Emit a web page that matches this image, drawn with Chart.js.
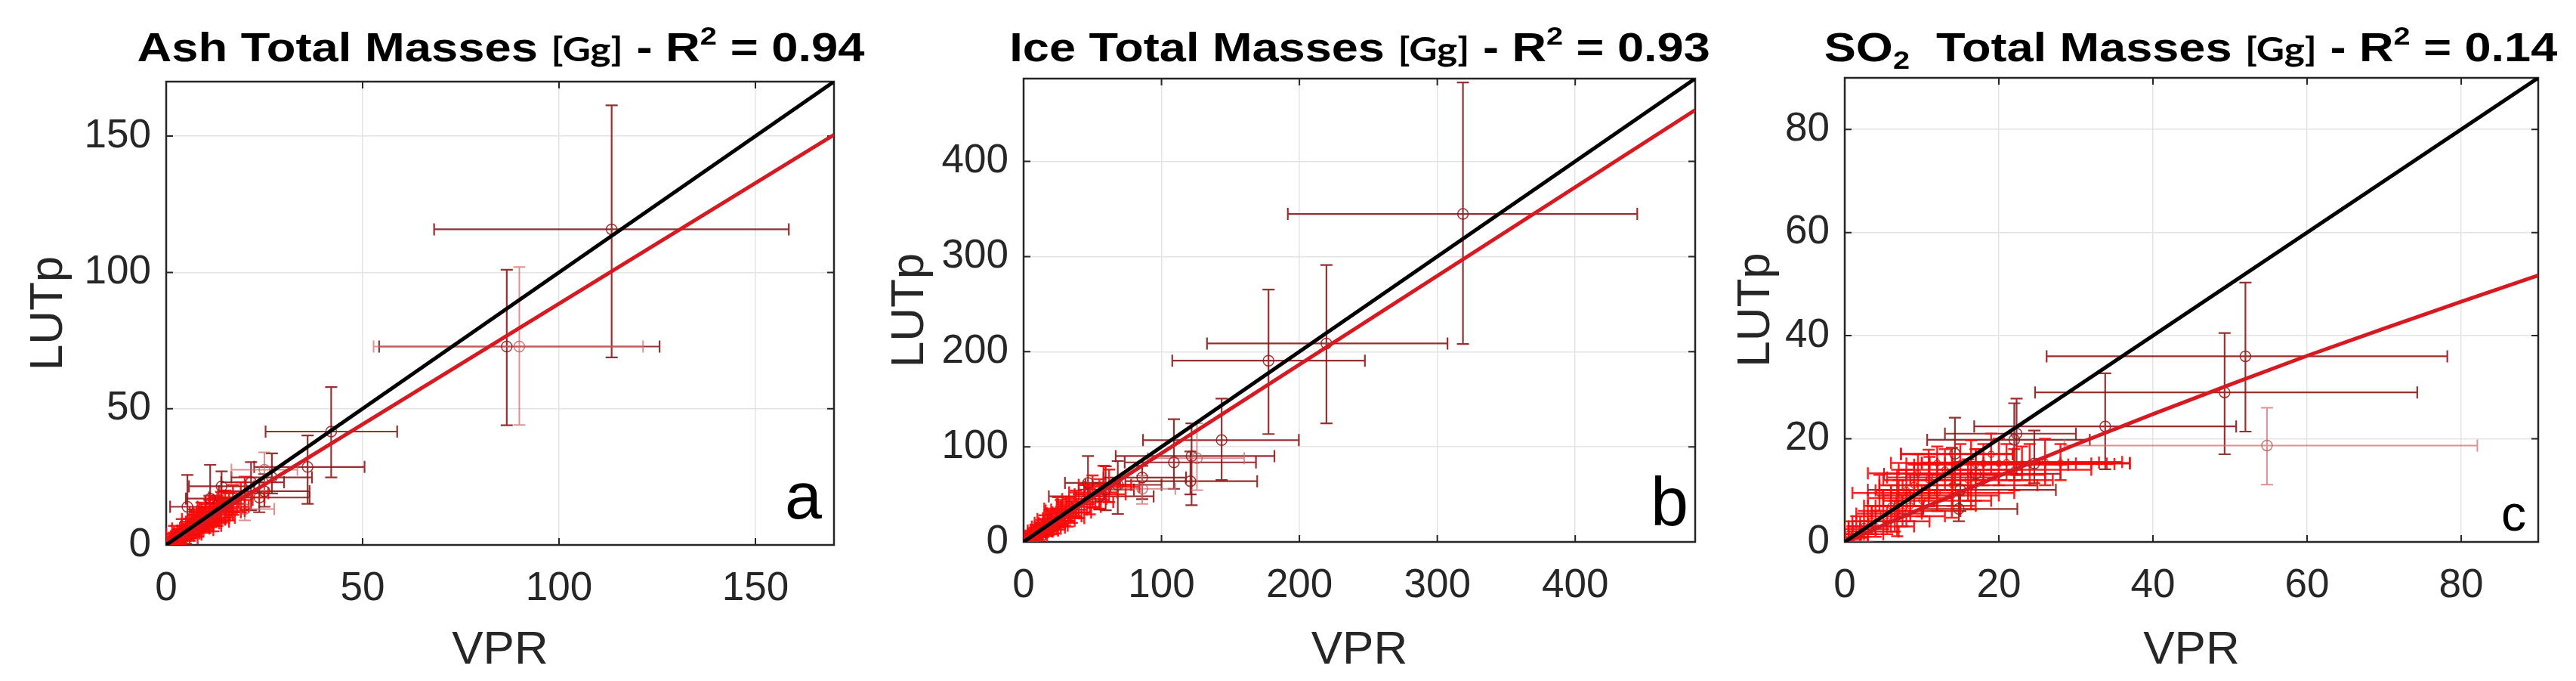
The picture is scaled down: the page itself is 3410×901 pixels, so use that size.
<!DOCTYPE html>
<html>
<head>
<meta charset="utf-8">
<script src="https://cdn.jsdelivr.net/npm/chart.js@4.4.1/dist/chart.umd.min.js"></script>
<style>
    html, body { margin: 0; padding: 0; background: #fff; }
    body { position: relative; width: 3410px; height: 901px; overflow: hidden; font-family: "Liberation Sans", Arial, sans-serif; }
    canvas { position: absolute; top: 0; }
    .ttl { position: absolute; top: 35px; font-weight: bold; font-size: 54px; line-height: 54px; white-space: nowrap; color: #000; transform-origin: center top; }
    .ttl .gg { font-family: Lato, "Open Sans", sans-serif; font-size: 44px; font-weight: bold; }
    .ttl .sup { font-size: 34px; position: relative; top: -22px; }
    .ttl .sub { font-size: 34px; position: relative; top: 10px; }
    .tag { position: absolute; color: #000; white-space: nowrap; }
</style>
</head>
<body>
<canvas id="cA" width="1140" height="901" style="left:0px"></canvas>
<canvas id="cB" width="1140" height="901" style="left:1140px"></canvas>
<canvas id="cC" width="1130" height="901" style="left:2280px"></canvas>

<div class="ttl" data-w="963" style="left:663px">Ash Total Masses <span class="gg">[Gg]</span> - R<span class="sup">2</span> = 0.94</div>
<div class="ttl" data-w="927" style="left:1800px">Ice Total Masses <span class="gg">[Gg]</span> - R<span class="sup">2</span> = 0.93</div>
<div class="ttl" data-w="971" style="left:2900px">SO<span class="sub">2</span>&nbsp; Total Masses <span class="gg">[Gg]</span> - R<span class="sup">2</span> = 0.14</div>

<div class="tag" style="right:2322px; top:612px; font-size:88px; line-height:88px;">a</div>
<div class="tag" style="right:1175px; top:619px; font-size:90px; line-height:90px;">b</div>
<div class="tag" style="right:66px; top:646px; font-size:66px; line-height:66px;">c</div>

<script>
// each point: [VPR, LUTp, VPR low, VPR high, LUTp low, LUTp high]

// --- Ash (panel a)
const ashTicks = [0, 50, 100, 150];
const ashDiag = [0, 170];
const ashFitX = [0, 170];
const ashFitY = [0, 150.5];
const ashDark = [
    [113.4, 115.8, 68.2, 158.5, 68.8, 161.3],
    [86.7, 72.8, 54.2, 125.6, 43.9, 101.0],
    [42.0, 41.6, 25.3, 58.8, 24.8, 57.9],
    [36.0, 28.6, 22.4, 50.5, 15.1, 40.2],
    [26.9, 24.8, 16.6, 37.1, 18.9, 33.6],
    [14.1, 21.5, 5.8, 22.4, 16.0, 27.0],
    [25.0, 19.7, 13.4, 36.5, 14.0, 26.0],
    [23.7, 17.4, 10.9, 36.5, 12.0, 23.0],
    [21.6, 23.0, 14.0, 30.0, 12.7, 30.4],
    [11.2, 17.0, 5.0, 20.0, 8.5, 29.4],
    [5.4, 14.0, 1.0, 10.0, 5.8, 25.7]
];
const ashLight = [
    [89.9, 72.8, 52.8, 121.4, 44.0, 102.0],
    [25.0, 27.6, 16.6, 33.4, 20.0, 34.0],
    [20.0, 13.2, 13.4, 27.5, 9.0, 18.0]
];
const ashBright = [
    [0.5, 0.6, 0, 1.5, 0, 1.8], [1, 1.2, 0, 2.5, 0, 3], [1.5, 1, 0.2, 3, 0, 2.8],
    [2, 2.4, 0.5, 4, 0.8, 4.5], [2.5, 1.8, 1, 4.5, 0.3, 3.5], [3, 3.2, 1.2, 5.2, 1.5, 5.5],
    [3, 1.5, 1, 5, 0, 3], [3.5, 2.5, 1.5, 6, 0.8, 5], [4, 4.1, 2, 6.5, 2, 7],
    [4.5, 3.5, 2.5, 7, 1.5, 6.5], [5, 5.3, 2.8, 7.8, 2.8, 8.5], [5.5, 4.2, 3, 8.5, 2, 7.5],
    [6, 6.2, 3.5, 9, 3.5, 9.5], [6, 3.8, 3.5, 9, 1.5, 6.5], [6.5, 5, 4, 9.5, 2.5, 8],
    [7, 7.3, 4, 10.5, 4.5, 11], [7.5, 6, 4.5, 11, 3.5, 9.5], [8, 8.5, 5, 11.5, 5, 12.5],
    [8.5, 7.2, 5.5, 12, 4.5, 10.5], [9, 9.4, 5.5, 13, 6, 13.5], [9.5, 8, 6, 13.5, 5, 11.5],
    [10, 10.5, 6.5, 14, 6.5, 15], [10.5, 9.3, 6.5, 15, 6, 13], [11, 11.8, 7, 15.5, 7.5, 16.5],
    [11.5, 10, 7.5, 16, 6.5, 14], [12, 12.5, 8, 16.5, 8, 17], [12, 8.5, 8, 16, 5, 12],
    [12.5, 11, 8.5, 17, 7, 15], [13, 13.4, 8.5, 18, 9, 18], [14, 12, 9.5, 19, 8, 16.5],
    [15, 15.1, 10, 20, 10, 20], [16, 14, 11, 21, 9, 19], [17, 16.5, 12, 22, 11, 22],
    [19, 17.5, 13, 25, 12, 23], [20, 19, 14, 26, 13, 25],
    [2, 4, 0, 5, 1.5, 7], [4, 6, 1.5, 7, 3, 9.5], [5, 2.5, 2.5, 8, 0.5, 5],
    [7, 9.5, 4, 10, 6.5, 13], [8, 5.5, 5, 12, 3, 8.5], [9, 12, 6, 12.5, 8.5, 15.5],
    [10, 7, 7, 14, 4.5, 10], [11, 14, 8, 15, 10.5, 18], [13, 10, 9, 17.5, 7, 13.5],
    [14, 15.5, 10, 18.5, 12, 19.5], [15, 12.5, 11, 20, 9, 16]
];

// --- Ice (panel b)
const iceTicks = [0, 100, 200, 300, 400];
const iceDiag = [0, 487];
const iceFitX = [0, 487];
const iceFitY = [0, 454];
const iceDark = [
    [318.6, 344.7, 191.6, 445.0, 208.0, 483.0],
    [177.6, 190.5, 107.8, 247.5, 113.4, 265.3],
    [219.6, 208.6, 133.0, 307.4, 124.7, 291.0],
    [143.6, 107.0, 86.6, 199.6, 65.0, 150.6],
    [121.8, 90.2, 66.8, 181.9, 38.6, 124.7],
    [109.0, 83.6, 73.3, 168.5, 55.8, 129.0],
    [121.0, 63.8, 73.8, 169.4, 50.0, 95.0],
    [86.0, 67.7, 57.9, 117.8, 45.0, 80.0],
    [68.3, 60.0, 45.0, 100.0, 29.4, 85.0],
    [59.5, 55.0, 40.0, 80.0, 33.3, 79.6],
    [55.0, 47.9, 18.3, 94.3, 34.0, 62.0],
    [46.7, 62.0, 30.0, 70.0, 48.0, 90.2]
];
const iceLight = [
    [125.7, 88.0, 90.0, 160.0, 54.4, 124.7],
    [86.0, 55.8, 62.0, 110.0, 40.0, 70.0]
];
const iceBright = [
    [2, 3, 0, 6, 0, 8], [3, 1, 0, 7, 0, 5], [4, 2, 0, 9, 0, 7], [5, 6, 1, 10, 1, 12],
    [6, 4, 1, 11, 0, 9], [7, 5, 2, 13, 1, 10], [8, 9, 3, 14, 3, 15], [10, 8, 4, 16, 3, 14],
    [12, 13, 5, 19, 6, 20], [14, 11, 7, 21, 5, 18], [15, 20, 8, 23, 12, 28], [16, 16, 8, 24, 8, 24],
    [18, 14, 10, 27, 7, 22], [20, 20, 11, 30, 11, 29], [22, 17, 13, 32, 9, 26], [24, 25, 14, 34, 15, 35],
    [25, 35, 15, 36, 24, 47], [26, 22, 15, 37, 13, 31], [28, 30, 17, 40, 19, 42], [30, 27, 18, 42, 17, 38],
    [33, 34, 20, 46, 22, 47], [35, 31, 21, 49, 20, 43], [38, 40, 24, 52, 27, 54], [40, 37, 25, 56, 25, 50],
    [44, 45, 28, 60, 31, 60], [48, 42, 31, 65, 29, 56], [50, 52, 33, 68, 36, 70], [55, 50, 37, 74, 35, 66],
    [58, 60, 40, 78, 44, 80], [62, 58, 44, 84, 42, 76],
    [9, 12, 3, 15, 6, 18], [11, 6, 5, 17, 2, 11], [13, 16, 6, 20, 9, 23], [17, 12, 9, 25, 6, 18],
    [19, 24, 10, 28, 15, 33], [21, 15, 12, 30, 8, 22], [27, 33, 16, 38, 22, 44], [32, 25, 20, 44, 16, 34]
];

// --- SO2 (panel c)
const so2Ticks = [0, 20, 40, 60, 80];
const so2Diag = [0, 90];
const so2FitX = [0, 10, 20, 30, 40, 50, 60, 70, 80, 90];
const so2FitY = [0, 6.5, 12.8, 18.9, 24.8, 30.5, 36.1, 41.4, 46.6, 51.7];
const so2Dark = [
    [52.0, 36.0, 26.2, 78.2, 21.4, 50.3],
    [49.3, 29.0, 24.7, 74.3, 17.0, 40.5],
    [33.8, 22.4, 16.8, 50.8, 14.1, 32.7],
    [22.0, 19.8, 10.7, 31.8, 11.9, 26.9],
    [22.3, 21.0, 13.0, 30.0, 13.0, 27.8],
    [24.6, 15.2, 12.0, 37.0, 11.4, 21.6],
    [17.0, 13.2, 5.1, 28.0, 8.0, 18.0],
    [15.0, 10.1, 3.0, 27.4, 6.0, 14.0],
    [14.8, 6.4, 10.2, 22.4, 4.0, 9.0],
    [14.3, 17.1, 7.3, 21.8, 11.2, 24.1]
];
const so2Light = [
    [54.8, 18.7, 28.5, 82.1, 11.1, 26.0]
];
const so2Bright = [
    [0.5, 1.5, 0, 2.5, 0, 4], [1, 0.8, 0, 3, 0, 3], [1.5, 2.5, 0, 4, 0.5, 5], [2, 1.5, 0, 5, 0, 4],
    [2.5, 3, 0.5, 6, 1, 6], [3, 2, 0.5, 7, 0, 5], [3.5, 4, 1, 8, 1.5, 7], [4, 3, 1, 9, 1, 6],
    [5, 5.5, 1.5, 10, 2.5, 9], [5.5, 4, 2, 11, 1.5, 7], [6, 7, 2.5, 12, 4, 11], [6.5, 5, 3, 13, 2, 8],
    [6.8, 7, 3, 10.2, 1.1, 14], [7, 8.5, 3, 14, 5, 12], [7.5, 6, 3.5, 15, 3, 9], [8, 10, 4, 16, 6, 14],
    [8.5, 7, 4, 17, 4, 10], [9, 11, 4.5, 17, 7, 15], [10, 8, 5, 19, 5, 11], [10.9, 12, 5, 18, 6.9, 17.9],
    [11, 12.5, 5.5, 20, 8.5, 16.5], [12, 9.5, 6, 22, 6, 13], [13, 14, 7, 23, 10, 18], [13.9, 9, 5, 20, 4.7, 18.3],
    [14, 11, 7.5, 25, 7, 15], [15, 15.2, 8, 28, 11, 19], [16, 12, 8.5, 27, 8, 16], [16.4, 13, 8, 26, 6.3, 19.7],
    [18, 15.2, 10, 30, 11, 19], [19, 17, 7.3, 21.8, 13, 21], [20, 15.2, 11, 32, 11, 20], [22, 14, 12, 32, 10, 18],
    [24, 15.2, 13, 34, 11, 19], [26, 15.5, 14, 36, 11, 20],
    [12, 15.3, 6, 26, 12, 18.5], [17, 15.0, 9, 29, 12, 18], [21, 15.4, 10, 33, 12, 19], [23, 15.1, 12, 35, 12, 18.5],
    [28, 15.3, 18, 37, 12, 19], [9.5, 13.3, 3, 22, 10, 17], [4.5, 9.5, 1, 12, 6, 13]
];

const FONT = "'Liberation Sans', Arial, sans-serif";
const INK = '#262626';

// axes box + inward ticks (MATLAB style)
const framePlugin = {
    id: 'frame',
    beforeDatasetsDraw(chart) {
        const { ctx, chartArea: a, scales: { x, y } } = chart;
        const len = 9;
        ctx.save();
        ctx.strokeStyle = INK;
        ctx.lineWidth = 2.5;
        ctx.strokeRect(a.left, a.top, a.right - a.left, a.bottom - a.top);
        ctx.lineWidth = 2;
        ctx.beginPath();
        x.ticks.forEach(t => {
            const px = x.getPixelForValue(t.value);
            ctx.moveTo(px, a.bottom); ctx.lineTo(px, a.bottom - len);
            ctx.moveTo(px, a.top); ctx.lineTo(px, a.top + len);
        });
        y.ticks.forEach(t => {
            const py = y.getPixelForValue(t.value);
            ctx.moveTo(a.left, py); ctx.lineTo(a.left + len, py);
            ctx.moveTo(a.right, py); ctx.lineTo(a.right - len, py);
        });
        ctx.stroke();
        ctx.restore();
    }
};

const errorBarPlugin = {
    id: 'errorBars',
    beforeDatasetsDraw(chart) {
        const { ctx, chartArea: a, scales: { x, y } } = chart;
        const cap = 8;
        ctx.save();
        ctx.beginPath();
        ctx.rect(a.left, a.top, a.right - a.left, a.bottom - a.top);
        ctx.clip();
        chart.data.datasets.forEach(ds => {
            if (!ds.errorBars) return;
            ctx.strokeStyle = ds.errorColor;
            ctx.lineWidth = ds.errorWidth;
            ds.data.forEach(p => {
                const px = x.getPixelForValue(p.x), py = y.getPixelForValue(p.y);
                const x0 = x.getPixelForValue(p.xLo), x1 = x.getPixelForValue(p.xHi);
                const y0 = y.getPixelForValue(p.yLo), y1 = y.getPixelForValue(p.yHi);
                ctx.beginPath();
                ctx.moveTo(x0, py); ctx.lineTo(x1, py);
                ctx.moveTo(x0, py - cap); ctx.lineTo(x0, py + cap);
                ctx.moveTo(x1, py - cap); ctx.lineTo(x1, py + cap);
                ctx.moveTo(px, y0); ctx.lineTo(px, y1);
                ctx.moveTo(px - cap, y0); ctx.lineTo(px + cap, y0);
                ctx.moveTo(px - cap, y1); ctx.lineTo(px + cap, y1);
                ctx.stroke();
            });
        });
        ctx.restore();
    }
};

function toPoints(list) {
    return list.map(t => ({ x: t[0], y: t[1], xLo: t[2], xHi: t[3], yLo: t[4], yHi: t[5] }));
}

function errSet(list, color, marker, width, radius) {
    return {
        data: toPoints(list),
        errorBars: true,
        errorColor: color,
        errorWidth: width,
        pointRadius: radius,
        pointBorderColor: marker,
        pointBackgroundColor: 'rgba(0,0,0,0)',
        pointBorderWidth: 1.5,
        showLine: false
    };
}

function makePanel(id, p) {
    const datasets = [
        Object.assign(errSet(p.dark, 'rgba(140,25,25,0.9)', 'rgba(150,30,30,0.9)', 2.2, 7), { order: 5 }),
        Object.assign(errSet(p.light, 'rgba(205,110,110,0.75)', 'rgba(190,90,90,0.8)', 2, 7), { order: 4 }),
        Object.assign(errSet(p.bright, 'rgba(250,10,10,0.9)', 'rgba(240,20,20,0.9)', 2.5, 4), { order: 3 }),
        {
            data: p.fitX.map((v, i) => ({ x: v, y: p.fitY[i] })),
            showLine: true, borderColor: '#d61a22', borderWidth: 5, pointRadius: 0, order: 2
        },
        {
            data: p.diag.map(v => ({ x: v, y: v })),
            showLine: true, borderColor: '#000000', borderWidth: 5, pointRadius: 0, order: 1
        }
    ];

    const axisCommon = (ticks) => ({
        type: 'linear',
        min: 0,
        max: p.diag[1],
        afterBuildTicks: s => { s.ticks = ticks.map(v => ({ value: v })); },
        grid: { color: '#e4e4e4', lineWidth: 1.5, drawTicks: false },
        border: { display: false }
    });

    new Chart(document.getElementById(id), {
        type: 'scatter',
        data: { datasets },
        options: {
            responsive: false,
            animation: false,
            layout: { padding: { top: p.top, right: p.rp, left: 0, bottom: 0 } },
            plugins: { legend: { display: false }, tooltip: { enabled: false } },
            scales: {
                x: Object.assign(axisCommon(p.ticks), {
                    afterFit: s => { s.height = p.xh; },
                    ticks: { color: INK, font: { size: 53, family: FONT }, padding: 27, maxRotation: 0 },
                    title: { display: true, text: 'VPR', color: INK, font: { size: 62, family: FONT }, padding: { top: 0, bottom: 3 } }
                }),
                y: Object.assign(axisCommon(p.ticks), {
                    afterFit: s => { s.width = p.yw; },
                    ticks: { color: INK, font: { size: 53, family: FONT }, padding: 20 },
                    title: { display: true, text: 'LUTp', color: INK, font: { size: 62, family: FONT }, padding: { top: p.titleOff, bottom: 0 } }
                })
            }
        },
        plugins: [framePlugin, errorBarPlugin]
    });
}

makePanel('cA', { ticks: ashTicks, diag: ashDiag, fitX: ashFitX, fitY: ashFitY, dark: ashDark, light: ashLight, bright: ashBright,
    top: 108, rp: 36, yw: 220, xh: 180, titleOff: 28 });
makePanel('cB', { ticks: iceTicks, diag: iceDiag, fitX: iceFitX, fitY: iceFitY, dark: iceDark, light: iceLight, bright: iceBright,
    top: 104, rp: 36, yw: 215, xh: 184, titleOff: 28 });
makePanel('cC', { ticks: so2Ticks, diag: so2Diag, fitX: so2FitX, fitY: so2FitY, dark: so2Dark, light: so2Light, bright: so2Bright,
    top: 103, rp: 50, yw: 162, xh: 184, titleOff: 8 });

// stretch titles to the width they take in the figure
document.querySelectorAll('.ttl').forEach(el => {
    const k = Number(el.dataset.w) / el.offsetWidth;
    el.style.transform = 'translateX(-50%) scaleX(' + k.toFixed(3) + ')';
});
</script>
</body>
</html>
